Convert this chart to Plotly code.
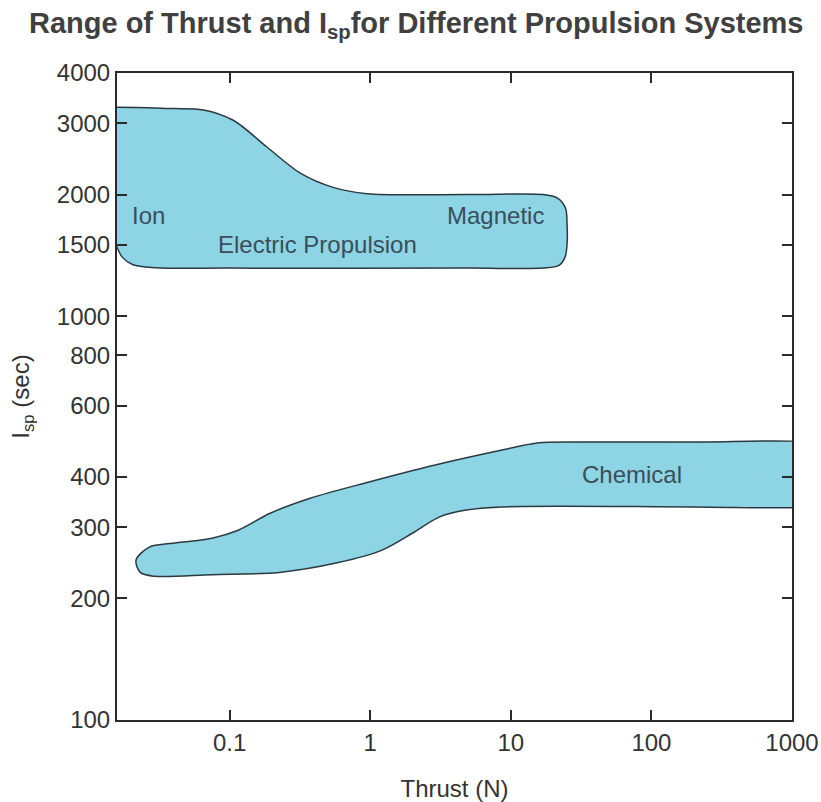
import numpy as np
import plotly.graph_objects as go

# ---- data (thrust in N, Isp in s) ----
electric_thrust = [0.0105, 0.04, 0.065, 0.106, 0.185, 0.318, 0.544, 0.95, 5, 17, 21.5, 24.5, 25.1, 25.1,
                   24.3, 22, 17, 5, 0.1, 0.03, 0.0205, 0.0172, 0.0158, 0.0150, 0.0115, 0.009, 0.009]
electric_isp = [3270, 3265, 3240, 3055, 2619, 2260, 2084, 2010, 2000, 2000, 1960, 1850, 1700, 1500,
                1400, 1335, 1315, 1315, 1315, 1318, 1340, 1400, 1480, 1530, 1540, 1560, 3200]

chemical_thrust = [0.0216, 0.0268, 0.036, 0.075, 0.115, 0.194, 0.374, 0.966, 2.90, 8.67, 15.4, 30.1, 200, 1200,
                   1400, 1400, 1200, 200, 8.67, 4.81, 3.09, 1.99, 1.20, 0.582, 0.225, 0.075, 0.029, 0.0231]
chemical_isp = [249, 268, 273, 282, 295, 325, 354, 388, 428, 466, 485, 488, 488, 488,
                478, 343, 337, 337, 337, 331, 318, 290, 263, 245, 232, 229, 227, 232]

label_text = ["Ion", "Magnetic", "Electric Propulsion", "Chemical"]
label_thrust = [0.0263, 7.73, 0.419, 72.9]
label_isp = [1778, 1778, 1508, 406]

x_tickvals = [0.1, 1, 10, 100, 1000]
x_ticktext = ["0.1", "1", "10", "100", "1000"]
y_tickvals = [100, 200, 300, 400, 600, 800, 1000, 1500, 2000, 3000, 4000]
y_ticktext = [str(v) for v in y_tickvals]

FILL = "rgb(141,212,228)"
EDGE = "#2b3a42"
TXT = "#333333"
LBL = "#3b4e5a"
FONT = "Liberation Sans, Arial, Helvetica, sans-serif"

fig = go.Figure()
for xs, ys in [(electric_thrust, electric_isp), (chemical_thrust, chemical_isp)]:
    fig.add_trace(go.Scatter(
        x=xs + [xs[0]], y=ys + [ys[0]], mode="lines", fill="toself",
        fillcolor=FILL, line=dict(color=EDGE, width=1.5, shape="spline", smoothing=0.9),
        hoverinfo="skip", showlegend=False))

for t, xv, yv in zip(label_text, label_thrust, label_isp):
    fig.add_annotation(x=np.log10(xv), y=np.log10(yv), xref="x", yref="y", text=t,
                       showarrow=False, font=dict(family=FONT, size=24, color=LBL))

axis_common = dict(type="log", showgrid=False, zeroline=False, showline=True,
                   linecolor="#2a2a2a", linewidth=2, mirror="ticks", ticks="inside",
                   ticklen=10, tickwidth=2, tickcolor="#2a2a2a", automargin=False,
                   tickfont=dict(family=FONT, size=24, color=TXT))

fig.update_xaxes(range=[np.log10(0.0158), 3], tickvals=x_tickvals, ticktext=x_ticktext,
                 title=dict(text="Thrust (N)", font=dict(family=FONT, size=24, color=TXT), standoff=25),
                 **axis_common)
fig.update_yaxes(range=[2, np.log10(4000)], tickvals=y_tickvals, ticktext=y_ticktext,
                 title=dict(text="I<sub>sp</sub> (sec)", font=dict(family=FONT, size=24, color=TXT), standoff=20),
                 **axis_common)

fig.update_layout(
    width=821, height=802,
    margin=dict(l=117, r=29, t=73, b=82),
    paper_bgcolor="white", plot_bgcolor="white",
    title=dict(text="<b>Range of Thrust and I<sub>sp</sub>for Different Propulsion Systems</b>",
               x=0.507, xanchor="center", y=0.972, yanchor="middle",
               font=dict(family=FONT, size=29, color="#404040")),
)

fig.write_html("out.html")
